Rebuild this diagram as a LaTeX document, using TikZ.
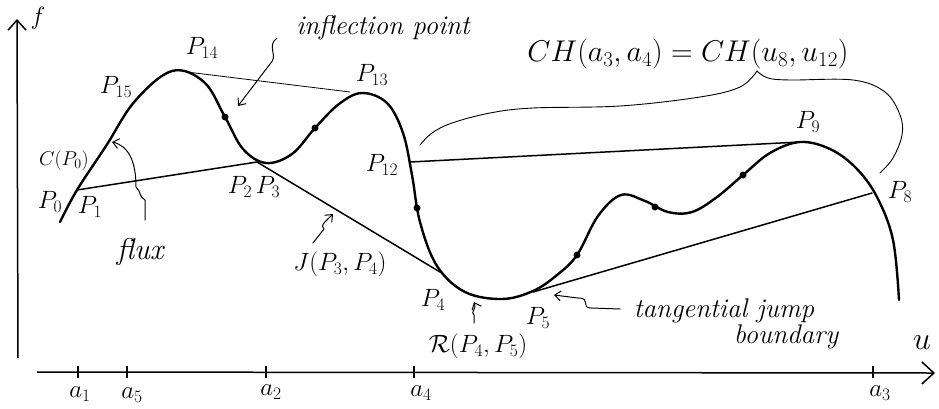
\RequirePackage{fix-cm}
\documentclass[tikz,border=0pt]{standalone}
\usetikzlibrary{arrows.meta}
\begin{document}
\begin{tikzpicture}[x=1pt,y=-1pt,
  curve/.style={line width=2.4pt, line join=round, line cap=round},
  chord/.style={line width=1.5pt, line cap=round},
  thinline/.style={line width=0.8pt},
  bracel/.style={line width=0.9pt, line cap=round},
  axis/.style={line width=1.5pt},
  lab/.style={inner sep=0pt, font=\fontsize{25}{27}\selectfont},
  smalllab/.style={inner sep=0pt, font=\fontsize{20}{22}\selectfont},
  biglab/.style={inner sep=0pt, font=\fontsize{30}{32}\selectfont},
  txt/.style={inner sep=0pt, font=\fontsize{27}{29}\selectfont\itshape},
  dotn/.style={circle, fill, inner sep=0pt, minimum size=7pt},
  note/.style={line width=1pt, line cap=round, -{Straight Barb[length=6pt,width=10pt]}},
  ticky/.style={line width=1.3pt}
]
\useasboundingbox (0,0) rectangle (939,408);

% axes
\coordinate (fbot) at (18,358);
\coordinate (ftop) at (17,19);
\draw[axis, -{Straight Barb[length=10pt,width=18pt]}] (fbot) -- (ftop);
\node[lab] (flab) at (38,18) {$f$};
\coordinate (uleft) at (37,372);
\coordinate (uright) at (935,373);
\draw[axis, -{Straight Barb[length=12pt,width=22pt]}] (uleft) -- (uright);
\node[inner sep=0pt, font=\fontsize{32}{34}\selectfont] (ulab) at (922,343) {$u$};

% ticks
\foreach \n/\x in {a1/78, a5/127, a2/266, a4/414, a3/873}{
  \coordinate (\n t) at (\x,366);
  \coordinate (\n b) at (\x,378);
  \draw[ticky] (\n t) -- (\n b);
}
\node[lab] (la1) at (80,394) {$a_1$};
\node[lab] (la5) at (132,395) {$a_5$};
\node[lab] (la2) at (271,392) {$a_2$};
\node[lab] (la4) at (421,393) {$a_4$};
\node[lab] (la3) at (880,393) {$a_3$};

% key points
\coordinate (P1) at (77,190);
\coordinate (P14) at (187,72);
\coordinate (P13) at (350,92);
\coordinate (P23) at (257,162);
\coordinate (P12) at (410,162);
\coordinate (P4) at (440,272);
\coordinate (P5) at (533,292);
\coordinate (P9) at (800,142);
\coordinate (P8) at (872,193);

% chords
\draw[chord] (P1) -- (P23);
\draw[thinline] (P14) -- (P13);
\draw[chord] (P23) -- (P4);
\draw[chord] (P12) -- (P9);
\draw[chord] (P5) -- (P8);

% flux curve
\draw[curve] plot[smooth, tension=0.6] coordinates {
 (60,222) (77,190) (106,146) (135,101) (172,71) (204,82) (225,117)
 (243,149) (266,163) (292,154) (315,128) (339,104) (362,93) (387,103)
 (403,133) (412,175) (420,222) (437,266) (465,292) (502,299) (533,291)
 (557,275) (577,255) (598,216) (621,195) (645,201) (668,212) (692,212)
 (717,197) (743,175) (770,153) (800,142) (830,149) (856,168) (877,197)
 (893,240) (899,300)};

% inflection dots
\node[dotn] (d1) at (225,117) {};
\node[dotn] (d2) at (315,128) {};
\node[dotn] (d3) at (417,208) {};
\node[dotn] (d4) at (577,255) {};
\node[dotn] (d5) at (655,207) {};
\node[dotn] (d6) at (743,175) {};

% point labels
\node[lab] (lP0) at (50,202) {$P_0$};
\node[lab] (lP1) at (90,207) {$P_1$};
\node[smalllab] (lC) at (64,160) {$C(P_0)$};
\node[lab] (lP15) at (116,87) {$P_{15}$};
\node[lab] (lP14) at (202,48) {$P_{14}$};
\node[lab] (lP2) at (240,187) {$P_2$};
\node[lab] (lP3) at (268,187) {$P_3$};
\node[lab] (lP13) at (372,75) {$P_{13}$};
\node[lab] (lP12) at (382,165) {$P_{12}$};
\node[lab] (lP4) at (433,300) {$P_4$};
\node[lab] (lP5) at (538,318) {$P_5$};
\node[lab] (lP9) at (808,122) {$P_9$};
\node[lab] (lP8) at (900,192) {$P_8$};

% annotations
\node[txt] (inf) at (383,28) {inflection point};
\coordinate (infA) at (277,38);
\coordinate (infT) at (238,106);
\draw[note] (infA) .. controls (266,46) and (279,56) .. (270,64) -- (infT);

\node[txt, font=\fontsize{30}{32}\selectfont\itshape] (flux) at (140,252) {flux};
\coordinate (fluxA) at (145,220);
\coordinate (fluxT) at (112,142);
\draw[note] (fluxA) -- (145,200) .. controls (139,197) and (141,191) .. (136,187)
  .. controls (136,162) and (129,146) .. (fluxT);

\node[lab] (lJ) at (340,264) {$J(P_3,P_4)$};
\coordinate (JA) at (313,243);
\coordinate (JT) at (333,214);
\draw[note] (JA) -- (324,229) .. controls (319,226) and (327,220) .. (JT);

\node[lab] (lR) at (478,346) {$\mathcal{R}(P_4,P_5)$};
\coordinate (RA) at (474,323);
\coordinate (RT) at (474,302);
\draw[note] (RA) -- (474,315) .. controls (470,312) and (477,309) .. (RT);

\node[txt] (tj) at (724,311) {tangential jump};
\node[txt] (bd) at (786,337) {boundary};
\coordinate (tjA) at (620,309);
\coordinate (tjT) at (554,295);
\draw[note] (tjA) -- (591,308) .. controls (580,308) and (592,298) .. (578,298) -- (tjT);

% convex hull brace
\node[biglab] (CH) at (688,54) {$CH(a_3,a_4)=CH(u_8,u_{12})$};
\coordinate (braceTip) at (757,71);
\draw[bracel] plot[smooth, tension=0.6] coordinates {
 (420,145) (432,133) (452,123) (490,113) (533,108) (620,106) (700,97) (740,87) (757,71)};
\draw[bracel] plot[smooth, tension=0.6] coordinates {
 (757,71) (768,78) (790,80) (853,80) (885,92) (900,115) (902,135) (893,158) (880,173)};
\end{tikzpicture}
\end{document}
